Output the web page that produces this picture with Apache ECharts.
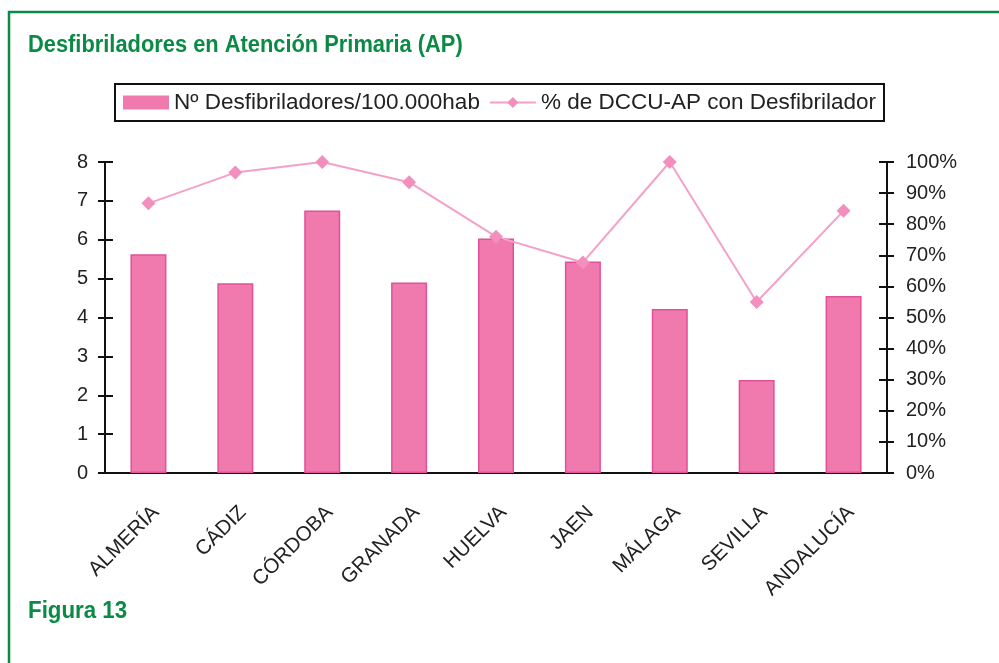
<!DOCTYPE html>
<html>
<head>
<meta charset="utf-8">
<script src="https://cdn.jsdelivr.net/npm/echarts@6/dist/echarts.min.js"></script>
<style>
  html, body { margin: 0; padding: 0; background: #fff; }
  #main { width: 999px; height: 663px; }
</style>
</head>
<body>
<div id="main"></div>
<script>
var provincias = ["ALMERÍA", "CÁDIZ", "CÓRDOBA", "GRANADA", "HUELVA", "JAEN", "MÁLAGA", "SEVILLA", "ANDALUCÍA"];
var desfibriladores = [5.63, 4.88, 6.75, 4.9, 6.03, 5.44, 4.22, 2.39, 4.55];
var porcentajeDCCU = [86.7, 96.6, 100, 93.5, 76, 67.7, 100, 55, 84.3];

var verde = "#0a8a45";
var fuente = "'Liberation Sans', Arial, sans-serif";
var myChart = echarts.init(document.getElementById("main"));

// ejes duplicados para que las marcas crucen el eje
var ejeIzq = {
  type: "value", min: 0, max: 8, interval: 1, position: "left",
  axisLine: { show: true, lineStyle: { color: "#111", width: 2 } },
  splitLine: { show: false }
};
var ejeDer = {
  type: "value", min: 0, max: 100, interval: 10, position: "right",
  axisLine: { show: true, lineStyle: { color: "#111", width: 2 } },
  splitLine: { show: false }
};

var option = {
  animation: false,
  textStyle: { fontFamily: fuente },
  graphic: [
    {
      type: "rect",
      shape: { x: 9, y: 12, width: 1010, height: 700 },
      style: { fill: "none", stroke: verde, lineWidth: 2.5 }
    },
    {
      type: "text", x: 28, y: 34, scaleX: 0.95,
      style: {
        text: "Desfibriladores en Atención Primaria (AP)",
        font: "bold 23px " + fuente,
        fill: verde
      }
    },
    {
      type: "text", x: 28, y: 600, scaleX: 0.97,
      style: {
        text: "Figura 13",
        font: "bold 23px " + fuente,
        fill: verde
      }
    }
  ],
  legend: {
    top: 84,
    left: "center",
    padding: [7, 8, 7, 8],
    borderColor: "#111",
    borderWidth: 2,
    itemWidth: 46,
    itemHeight: 14,
    itemGap: 9,
    textStyle: { fontSize: 22.5, color: "#222", fontFamily: fuente },
    data: [
      { name: "Nº Desfibriladores/100.000hab", icon: "rect", itemStyle: { borderWidth: 0 } },
      { name: "% de DCCU-AP con Desfibrilador" }
    ]
  },
  grid: { left: 105, right: 112, top: 162, bottom: 190 },
  xAxis: {
    type: "category",
    data: provincias,
    axisLine: { lineStyle: { color: "#111", width: 2 } },
    axisTick: { length: 7, lineStyle: { color: "#111", width: 2 } },
    axisLabel: {
      rotate: 45, fontSize: 20.5, color: "#222", margin: 29, interval: 0,
      verticalAlign: "top", fontFamily: fuente
    }
  },
  yAxis: [
    Object.assign({}, ejeIzq, {
      axisTick: { show: true, length: 7, lineStyle: { color: "#111", width: 2 } },
      axisLabel: { fontSize: 20, color: "#222", margin: 17, fontFamily: fuente }
    }),
    Object.assign({}, ejeDer, {
      axisTick: { show: true, length: 7, lineStyle: { color: "#111", width: 2 } },
      axisLabel: { fontSize: 20, color: "#222", margin: 19, formatter: "{value}%", fontFamily: fuente }
    }),
    Object.assign({}, ejeIzq, {
      axisTick: { show: true, inside: true, length: 8, lineStyle: { color: "#111", width: 2 } },
      axisLabel: { show: false }
    }),
    Object.assign({}, ejeDer, {
      axisTick: { show: true, inside: true, length: 8, lineStyle: { color: "#111", width: 2 } },
      axisLabel: { show: false }
    })
  ],
  series: [
    {
      name: "Nº Desfibriladores/100.000hab",
      type: "bar",
      yAxisIndex: 0,
      barWidth: 36,
      itemStyle: { color: "#f07aad", borderColor: "#e2509a", borderWidth: 1.5 },
      data: desfibriladores
    },
    {
      name: "% de DCCU-AP con Desfibrilador",
      type: "line",
      yAxisIndex: 1,
      symbol: "diamond",
      symbolSize: 14,
      lineStyle: { color: "#f4a0c8", width: 2 },
      itemStyle: { color: "#f28fbf" },
      data: porcentajeDCCU
    }
  ]
};
myChart.setOption(option);
</script>
</body>
</html>
